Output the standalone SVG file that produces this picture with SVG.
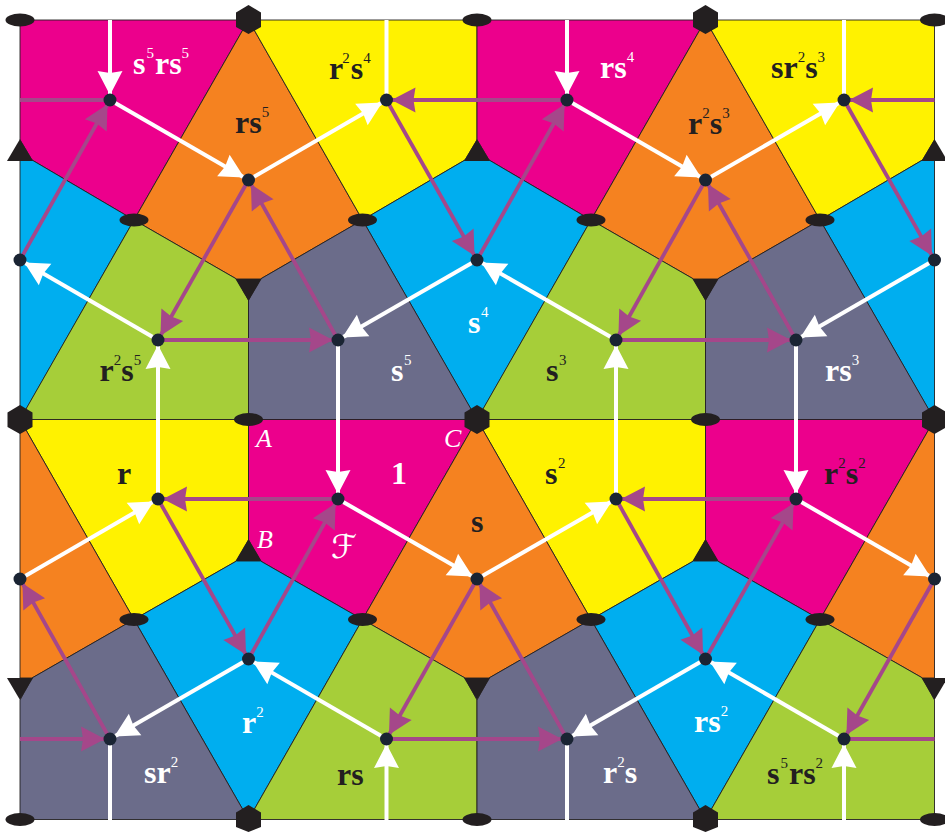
<svg xmlns="http://www.w3.org/2000/svg" width="945" height="832" viewBox="0 0 945 832">
<style>
.t{stroke:#231f20;stroke-width:.9;stroke-linejoin:round}
.m{fill:#ec008c}.o{fill:#f58220}.y{fill:#fff200}.b{fill:#00aeef}.g{fill:#a6ce39}.k{fill:#6b6c8a}
.l{font-family:"Liberation Serif","Times New Roman",serif;font-weight:bold;font-size:32px}
.w{fill:#fff}.d{fill:#231f20}
.s{font-size:15px;font-weight:normal}
.i{font-family:"Liberation Serif","Times New Roman",serif;font-style:italic;font-size:26px;fill:#fff}
.f{font-family:"DejaVu Serif","DejaVu Sans",serif;font-style:italic;font-size:33px;fill:#fff}
.sym{fill:#231f20}
.c{fill:none;stroke-linecap:butt}
.wa{stroke:#fff;stroke-width:4}
.pa{stroke:#a5478a;stroke-width:3.8}
.he{marker-end:url(#hw)}
.hp{marker-end:url(#hp)}
.n{fill:#1a2433}
</style>
<defs>
<marker id="hw" markerUnits="userSpaceOnUse" markerWidth="34" markerHeight="30" viewBox="0 -15 34 30" refX="30" refY="0" orient="auto"><path d="M1,-12.5L25,0L1,12.5L3,0z" fill="#fff"/></marker>
<marker id="hp" markerUnits="userSpaceOnUse" markerWidth="34" markerHeight="30" viewBox="0 -15 34 30" refX="30" refY="0" orient="auto"><path d="M1,-12.5L25,0L1,12.5L3,0z" fill="#a5478a"/></marker>
</defs>
<rect width="945" height="832" fill="#fff"/>
<g id="tiles">
<g id="tile-s5rs5"><polygon class="t m" points="20,20 248.5,20 134,220 32,160 20,140"/></g>
<g id="tile-rs5"><polygon class="t o" points="248.5,20 362.5,220 260.5,279 236.5,279 134,220"/></g>
<g id="tile-r2s4"><polygon class="t y" points="248.5,20 477,20 477,140 465,160 362.5,220"/></g>
<g id="tile-rs4"><polygon class="t m" points="477,20 705.5,20 591,220 489,160 477,140"/></g>
<g id="tile-r2s3"><polygon class="t o" points="705.5,20 820,220 717.5,279 693.5,279 591,220"/></g>
<g id="tile-sr2s3"><polygon class="t y" points="705.5,20 934.5,20 934.5,140 922.5,160 820,220"/></g>
<g id="tile-s-left"><polygon class="t b" points="20,160 32,160 134,220 20,420"/></g>
<g id="tile-s4"><polygon class="t b" points="465,160 489,160 591,220 477,420 362.5,220"/></g>
<g id="tile-s-right"><polygon class="t b" points="934.5,160 922.5,160 820,220 934.5,420"/></g>
<g id="tile-r2s5"><polygon class="t g" points="134,220 236.5,279 248.5,300 248.5,419.5 20,419.5"/></g>
<g id="tile-s5"><polygon class="t k" points="248.5,300 260.5,279 362.5,220 477,419.5 248.5,419.5"/></g>
<g id="tile-s3"><polygon class="t g" points="591,220 693.5,279 705.5,300 705.5,419.5 477,419.5"/></g>
<g id="tile-rs3"><polygon class="t k" points="705.5,300 717.5,279 820,220 934.5,419.5 705.5,419.5"/></g>
<g id="tile-r"><polygon class="t y" points="20,419.5 248.5,419.5 248.5,540 236.5,561 134,619.5"/></g>
<g id="tile-1"><polygon class="t m" points="248.5,419.5 477,419.5 362.5,619.5 260.5,561 248.5,540"/></g>
<g id="tile-s2"><polygon class="t y" points="477,419.5 705.5,419.5 705.5,540 693.5,561 591,619.5"/></g>
<g id="tile-r2s2"><polygon class="t m" points="705.5,419.5 934.5,419.5 820,619.5 717.5,561 705.5,540"/></g>
<g id="tile-o-left"><polygon class="t o" points="20,419.5 134,619.5 32,678 20,678"/></g>
<g id="tile-s"><polygon class="t o" points="477,419.5 591,619.5 489,678 465,678 362.5,619.5"/></g>
<g id="tile-o-right"><polygon class="t o" points="934.5,419.5 820,619.5 922.5,678 934.5,678"/></g>
<g id="tile-r2"><polygon class="t b" points="236.5,561 260.5,561 362.5,619.5 248.5,819.5 134,619.5"/></g>
<g id="tile-rs2"><polygon class="t b" points="693.5,561 717.5,561 820,619.5 705.5,819.5 591,619.5"/></g>
<g id="tile-sr2"><polygon class="t k" points="20,700 32,678 134,619.5 248.5,819.5 20,819.5"/></g>
<g id="tile-rs"><polygon class="t g" points="248.5,819.5 362.5,619.5 465,678 477,700 477,819.5"/></g>
<g id="tile-r2s"><polygon class="t k" points="477,700 489,678 591,619.5 705.5,819.5 477,819.5"/></g>
<g id="tile-s5rs2"><polygon class="t g" points="705.5,819.5 820,619.5 922.5,678 934.5,700 934.5,819.5"/></g>
</g>
<g id="symmetry-points" class="sym">
<polygon points="20,139 33,161 7,161"/><polygon points="477,139 490,161 464,161"/><polygon points="934.5,139 947.5,161 921.5,161"/>
<polygon points="248.5,301 261.5,279 235.5,279"/><polygon points="705.5,301 718.5,279 692.5,279"/>
<polygon points="248.5,539 261.5,561 235.5,561"/><polygon points="705.5,539 718.5,561 692.5,561"/>
<polygon points="20,700 33,678 7,678"/><polygon points="477,700 490,678 464,678"/><polygon points="934.5,700 947.5,678 921.5,678"/>
<polygon points="248.5,5 261,12.5 261,27 248.5,34 236,27 236,12.5"/><polygon points="705.5,5 718,12.5 718,27 705.5,34 693,27 693,12.5"/>
<polygon points="20,405 32.5,412.5 32.5,427 20,434 7.5,427 7.5,412.5"/><polygon points="477,405 489.5,412.5 489.5,427 477,434 464.5,427 464.5,412.5"/><polygon points="934.5,405 947,412.5 947,427 934.5,434 922,427 922,412.5"/>
<polygon points="248.5,805 261,812.5 261,827 248.5,832 236,827 236,812.5"/><polygon points="705.5,805 718,812.5 718,827 705.5,832 693,827 693,812.5"/>
<ellipse cx="20" cy="20" rx="14.5" ry="6.5"/><ellipse cx="477" cy="20" rx="14.5" ry="6.5"/><ellipse cx="934.5" cy="20" rx="14.5" ry="6.5"/>
<ellipse cx="134" cy="220" rx="14.5" ry="6.5"/><ellipse cx="362.5" cy="220" rx="14.5" ry="6.5"/><ellipse cx="591" cy="220" rx="14.5" ry="6.5"/><ellipse cx="820" cy="220" rx="14.5" ry="6.5"/>
<ellipse cx="248.5" cy="419.5" rx="14.5" ry="6.5"/><ellipse cx="705.5" cy="419.5" rx="14.5" ry="6.5"/>
<ellipse cx="134" cy="619.5" rx="14.5" ry="6.5"/><ellipse cx="362.5" cy="619.5" rx="14.5" ry="6.5"/><ellipse cx="591" cy="619.5" rx="14.5" ry="6.5"/><ellipse cx="820" cy="619.5" rx="14.5" ry="6.5"/>
<ellipse cx="20" cy="819.5" rx="14.5" ry="6.5"/><ellipse cx="477" cy="819.5" rx="14.5" ry="6.5"/><ellipse cx="934.5" cy="819.5" rx="14.5" ry="6.5"/>
</g>
<g id="connectors" class="c">
<g class="wa">
<path class="he" d="M110,20V100"/><path d="M386.5,20V100"/><path class="he" d="M567,20V100"/><path d="M844,20V100"/>
<path class="he" d="M110,100L248.5,180"/><path class="he" d="M248.5,180L386.5,100"/><path class="he" d="M567,100L705.5,180"/><path class="he" d="M705.5,180L844,100"/>
<path class="he" d="M158,340L20,260"/><path class="he" d="M477,260L338,340"/><path class="he" d="M616,340L477,260"/><path class="he" d="M934.5,260L796,340"/>
<path class="he" d="M158,499V340"/><path class="he" d="M338,340V499"/><path class="he" d="M616,499V340"/><path class="he" d="M796,340V499"/>
<path class="he" d="M20,579L158,499"/><path class="he" d="M338,499L477,579"/><path class="he" d="M477,579L616,499"/><path class="he" d="M796,499L934.5,579"/>
<path class="he" d="M248.5,659L110,739"/><path class="he" d="M386.5,739L248.5,659"/><path class="he" d="M705.5,659L567,739"/><path class="he" d="M844,739L705.5,659"/>
<path d="M110,739V820"/><path class="he" d="M386.5,820V739"/><path d="M567,739V820"/><path class="he" d="M844,820V739"/>
</g>
<g class="pa">
<path d="M20,100H110"/><path class="hp" d="M20,260L110,100"/>
<path class="hp" d="M338,340L248.5,180"/><path class="hp" d="M248.5,180L158,340"/><path class="hp" d="M158,340H338"/>
<path class="hp" d="M567,100H386.5"/><path class="hp" d="M386.5,100L477,260"/><path class="hp" d="M477,260L567,100"/>
<path class="hp" d="M796,340L705.5,180"/><path class="hp" d="M705.5,180L616,340"/><path class="hp" d="M616,340H796"/>
<path class="hp" d="M934.5,100H844"/><path class="hp" d="M844,100L934.5,260"/>
<path class="hp" d="M338,499H158"/><path class="hp" d="M158,499L248.5,659"/><path class="hp" d="M248.5,659L338,499"/>
<path class="hp" d="M110,739L20,579"/><path class="hp" d="M20,739H110"/>
<path class="hp" d="M477,579L386.5,739"/><path class="hp" d="M386.5,739H567"/><path class="hp" d="M567,739L477,579"/>
<path class="hp" d="M796,499H616"/><path class="hp" d="M616,499L705.5,659"/><path class="hp" d="M705.5,659L796,499"/>
<path class="hp" d="M934.5,579L844,739"/><path d="M844,739H934.5"/>
</g>
</g>
<g id="vertices" class="n">
<g id="v1"><circle cx="110" cy="100" r="6.5"/></g><g id="v2"><circle cx="386.5" cy="100" r="6.5"/></g><g id="v3"><circle cx="567" cy="100" r="6.5"/></g><g id="v4"><circle cx="844" cy="100" r="6.5"/></g>
<g id="v5"><circle cx="248.5" cy="180" r="6.5"/></g><g id="v6"><circle cx="705.5" cy="180" r="6.5"/></g>
<g id="v7"><circle cx="20" cy="260" r="6.5"/></g><g id="v8"><circle cx="477" cy="260" r="6.5"/></g><g id="v9"><circle cx="934.5" cy="260" r="6.5"/></g>
<g id="v10"><circle cx="158" cy="340" r="6.5"/></g><g id="v11"><circle cx="338" cy="340" r="6.5"/></g><g id="v12"><circle cx="616" cy="340" r="6.5"/></g><g id="v13"><circle cx="796" cy="340" r="6.5"/></g>
<g id="v14"><circle cx="158" cy="499" r="6.5"/></g><g id="v15"><circle cx="338" cy="499" r="6.5"/></g><g id="v16"><circle cx="616" cy="499" r="6.5"/></g><g id="v17"><circle cx="796" cy="499" r="6.5"/></g>
<g id="v18"><circle cx="20" cy="579" r="6.5"/></g><g id="v19"><circle cx="477" cy="579" r="6.5"/></g><g id="v20"><circle cx="934.5" cy="579" r="6.5"/></g>
<g id="v21"><circle cx="248.5" cy="659" r="6.5"/></g><g id="v22"><circle cx="705.5" cy="659" r="6.5"/></g>
<g id="v23"><circle cx="110" cy="739" r="6.5"/></g><g id="v24"><circle cx="386.5" cy="739" r="6.5"/></g><g id="v25"><circle cx="567" cy="739" r="6.5"/></g><g id="v26"><circle cx="844" cy="739" r="6.5"/></g>
</g>
<g id="labels">
<text class="l w" x="133" y="74">s<tspan class="s" dx="1" dy="-16">5</tspan><tspan dx="1" dy="16">rs</tspan><tspan class="s" dy="-16">5</tspan></text>
<text class="l d" x="235" y="133">rs<tspan class="s" dy="-16">5</tspan></text>
<text class="l d" x="329" y="79">r<tspan class="s" dx="-1" dy="-16">2</tspan><tspan dx="1" dy="16">s</tspan><tspan class="s" dy="-16">4</tspan></text>
<text class="l w" x="600" y="78">rs<tspan class="s" dy="-16">4</tspan></text>
<text class="l d" x="688" y="134">r<tspan class="s" dy="-16">2</tspan><tspan dy="16">s</tspan><tspan class="s" dy="-16">3</tspan></text>
<text class="l d" x="771" y="78">sr<tspan class="s" dy="-16">2</tspan><tspan dy="16">s</tspan><tspan class="s" dy="-16">3</tspan></text>
<text class="l d" x="99.5" y="381">r<tspan class="s" dy="-16">2</tspan><tspan dy="16">s</tspan><tspan class="s" dy="-16">5</tspan></text>
<text class="l w" x="391" y="381">s<tspan class="s" dy="-16" dx="0.5">5</tspan></text>
<text class="l w" x="468" y="333">s<tspan class="s" dy="-16" dx="0.5">4</tspan></text>
<text class="l d" x="546" y="381">s<tspan class="s" dy="-16" dx="0.5">3</tspan></text>
<text class="l w" x="825" y="381">rs<tspan class="s" dy="-16">3</tspan></text>
<text class="l d" x="117" y="484">r</text>
<text class="l w" x="391" y="484">1</text>
<text class="l d" x="545" y="484">s<tspan class="s" dy="-16" dx="0.5">2</tspan></text>
<text class="l d" x="471" y="532">s</text>
<text class="l d" x="824" y="484">r<tspan class="s" dy="-16">2</tspan><tspan dy="16">s</tspan><tspan class="s" dy="-16">2</tspan></text>
<text class="l w" x="242" y="733">r<tspan class="s" dy="-16">2</tspan></text>
<text class="l w" x="144" y="783">sr<tspan class="s" dy="-16">2</tspan></text>
<text class="l d" x="337" y="785">rs</text>
<text class="l w" x="694" y="732">rs<tspan class="s" dy="-16">2</tspan></text>
<text class="l w" x="603" y="783">r<tspan class="s" dy="-16">2</tspan><tspan dy="16">s</tspan></text>
<text class="l d" x="767" y="784">s<tspan class="s" dx="1" dy="-16">5</tspan><tspan dx="1" dy="16">rs</tspan><tspan class="s" dy="-16">2</tspan></text>
<text class="i" x="256" y="447">A</text>
<text class="i" x="257" y="548">B</text>
<text class="i" x="444" y="447">C</text>
<text class="f" x="331" y="558">ℱ</text>
</g>
</svg>
